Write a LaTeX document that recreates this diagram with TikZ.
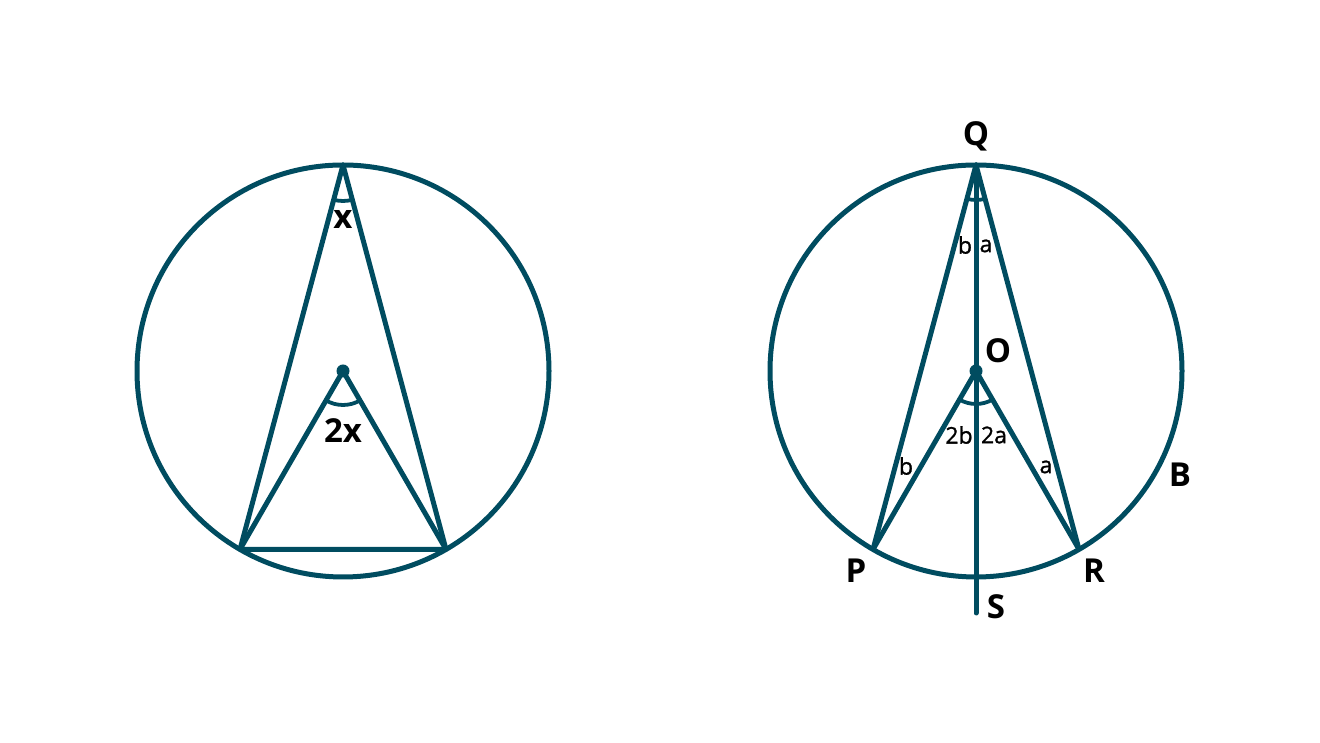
\documentclass[tikz,border=0pt]{standalone}
\usepackage{fontspec}
\setmainfont{Open Sans}
\usetikzlibrary{calc}
\definecolor{teal}{RGB}{0,76,96}
\tikzset{
  geo/.style={draw=teal, line width=5pt, line join=round},
  anglearc/.style={draw=teal, line width=3.8pt},
  biglab/.style={font=\fontsize{33}{33}\selectfont\bfseries, text=black, inner sep=0pt},
  smalllab/.style={font=\fontsize{23}{23}\selectfont\addfontfeature{FakeBold=1.2}, text=black, inner sep=0pt},
}
\begin{document}
\begin{tikzpicture}[x=1pt,y=1pt]
\useasboundingbox (0,0) rectangle (1320,743);
% ---------- left diagram ----------
\coordinate (O1) at (343,372);
\coordinate (A1) at ($(O1)+(90:206)$);
\coordinate (B1) at ($(O1)+(240:206)$);
\coordinate (C1) at ($(O1)+(300:206)$);
\draw[geo] (O1) circle (206);
\draw[geo] (B1) -- (A1) -- (C1) -- cycle;
\draw[geo] (B1) -- (O1) -- (C1);
\draw[anglearc] ($(A1)+(255:36)$) arc (255:285:36);
\draw[anglearc] ($(O1)+(240:34)$) arc (240:300:34);
\fill[teal] (O1) circle (6.5);
\node[biglab] (lx) at (343,523) {x};
\node[biglab] (l2x) at (343,312) {2x};
% ---------- right diagram ----------
\coordinate (O) at (976,372);
\coordinate (Q) at ($(O)+(90:206)$);
\coordinate (P) at ($(O)+(240:206)$);
\coordinate (R) at ($(O)+(300:206)$);
\coordinate (Send) at (976,130);
\draw[geo] (O) circle (206);
\draw[geo] (P) -- (Q) -- (R);
\draw[geo] (P) -- (O) -- (R);
\draw[geo, line cap=round] (Q) -- (Send);
\draw[anglearc] ($(Q)+(255:35)$) arc (255:285:35);
\draw[anglearc] ($(O)+(240:33)$) arc (240:300:33);
\fill[teal] (O) circle (6.5);
\node[biglab] (lQ) at (976,607) {Q};
\node[biglab] (lO) at (998,392) {O};
\node[biglab] (lB) at (1180,268) {B};
\node[biglab] (lP) at (856,172) {P};
\node[biglab] (lR) at (1094,172) {R};
\node[biglab] (lS) at (996,136) {S};
\node[smalllab] (lb1) at (965,498) {b};
\node[smalllab] (la1) at (986,497) {a};
\node[smalllab] (l2b) at (959,308) {2b};
\node[smalllab] (l2a) at (994,308) {2a};
\node[smalllab] (lb2) at (906,277) {b};
\node[smalllab] (la2) at (1046,276) {a};
\end{tikzpicture}
\end{document}
